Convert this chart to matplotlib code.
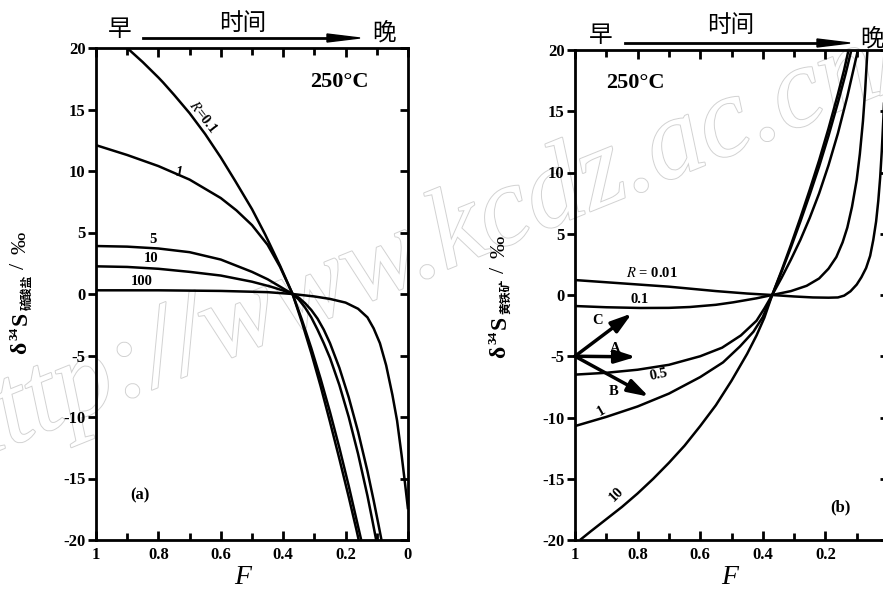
import numpy as np
import matplotlib
matplotlib.use('Agg')
import matplotlib.pyplot as plt
import matplotlib.patheffects as pe
from matplotlib.ticker import MultipleLocator, FixedLocator
from matplotlib.lines import Line2D
from matplotlib.patches import Polygon

plt.rcParams['font.family'] = ['Liberation Serif', 'Noto Sans CJK SC']
plt.rcParams['mathtext.fontset'] = 'stix'
plt.rcParams['axes.unicode_minus'] = False

# (a) sulfate: F (fraction remaining) vs delta34S, one curve per R
a_r01_F = [0.90, 0.85, 0.80, 0.785, 0.75, 0.70, 0.65, 0.60, 0.554, 0.50, 0.458, 0.41, 0.37,
           0.34, 0.31, 0.28, 0.25, 0.22, 0.19, 0.165, 0.158]
a_r01_d = [20.0, 18.85, 17.6, 17.2, 16.2, 14.7, 13.0, 11.1, 9.2, 6.9, 4.85, 2.3, 0.0,
           -2.3, -4.8, -7.5, -10.4, -13.4, -16.5, -19.2, -20.0]
a_r1_F = [1.0, 0.9, 0.8, 0.7, 0.6, 0.55, 0.50, 0.45, 0.41, 0.37,
          0.34, 0.31, 0.28, 0.25, 0.22, 0.19, 0.16, 0.15]
a_r1_d = [12.1, 11.3, 10.4, 9.3, 7.8, 6.8, 5.6, 4.0, 2.2, 0.0,
          -2.1, -4.4, -6.9, -9.6, -12.5, -15.6, -18.9, -20.0]
a_r5_F = [1.0, 0.9, 0.8, 0.7, 0.6, 0.5, 0.45, 0.41, 0.37,
          0.35, 0.33, 0.31, 0.29, 0.27, 0.25, 0.22, 0.19, 0.16, 0.13, 0.115, 0.102]
a_r5_d = [3.9, 3.85, 3.7, 3.4, 2.8, 1.8, 1.2, 0.6, 0.0,
          -0.45, -1.1, -1.9, -2.9, -4.0, -5.2, -7.4, -10.0, -13.0, -16.4, -18.3, -20.0]
a_r10_F = [1.0, 0.9, 0.8, 0.7, 0.6, 0.5, 0.44, 0.40, 0.37,
           0.35, 0.33, 0.31, 0.29, 0.27, 0.25, 0.22, 0.19, 0.16, 0.13, 0.11, 0.095, 0.085]
a_r10_d = [2.25, 2.2, 2.05, 1.8, 1.5, 1.0, 0.6, 0.28, 0.0,
           -0.3, -0.75, -1.3, -2.0, -2.9, -4.0, -6.0, -8.4, -11.2, -14.4, -16.8, -18.7, -20.0]
a_r100_F = [1.0, 0.8, 0.6, 0.45, 0.37, 0.30, 0.25, 0.20, 0.16, 0.13, 0.11, 0.09,
            0.07, 0.05, 0.035, 0.02, 0.01, 0.0]
a_r100_d = [0.3, 0.3, 0.25, 0.15, 0.0, -0.2, -0.4, -0.7, -1.2, -1.9, -2.8, -4.0,
            -5.8, -8.2, -10.3, -13.2, -15.3, -17.5]

# (b) pyrite
b_r001_F = [1.0, 0.85, 0.70, 0.55, 0.45, 0.37, 0.30, 0.24, 0.19, 0.16, 0.14, 0.12,
            0.10, 0.085, 0.07, 0.057, 0.047, 0.038, 0.031, 0.025, 0.02, 0.015, 0.01, 0.006]
b_r001_d = [1.22, 0.95, 0.68, 0.32, 0.12, 0.0, -0.12, -0.2, -0.22, -0.2, -0.05, 0.3,
            0.85, 1.45, 2.2, 3.2, 4.5, 6.0, 7.7, 9.6, 11.7, 14.3, 17.5, 20.3]
b_r01_F = [1.0, 0.9, 0.79, 0.70, 0.633, 0.55, 0.495, 0.42, 0.37,
           0.31, 0.26, 0.22, 0.19, 0.165, 0.145, 0.13, 0.115, 0.10, 0.09, 0.08, 0.073, 0.067, 0.065]
b_r01_d = [-0.9, -1.0, -1.06, -1.05, -0.98, -0.8, -0.6, -0.27, 0.0,
           0.32, 0.75, 1.35, 2.15, 3.1, 4.3, 5.5, 7.2, 9.4, 11.5, 14.2, 16.7, 19.4, 20.3]
b_r05_F = [1.0, 0.9, 0.8, 0.7, 0.6, 0.53, 0.47, 0.42, 0.395, 0.37,
           0.34, 0.31, 0.28, 0.25, 0.22, 0.19, 0.16, 0.13, 0.105, 0.096]
b_r05_d = [-6.5, -6.35, -6.1, -5.7, -5.0, -4.3, -3.3, -2.1, -1.1, 0.0,
           1.4, 2.9, 4.5, 6.3, 8.3, 10.6, 13.2, 16.2, 19.0, 20.0]
b_r1_F = [1.0, 0.9, 0.8, 0.7, 0.6, 0.527, 0.473, 0.43, 0.40, 0.37,
          0.34, 0.31, 0.28, 0.25, 0.22, 0.19, 0.16, 0.135, 0.117]
b_r1_d = [-10.7, -9.95, -9.1, -8.05, -6.7, -5.5, -4.2, -3.0, -1.8, 0.0,
          1.9, 3.9, 6.0, 8.2, 10.5, 13.0, 15.7, 18.1, 20.0]
b_r10_F = [0.984, 0.95, 0.90, 0.85, 0.80, 0.75, 0.70, 0.65, 0.60, 0.55, 0.50, 0.45,
           0.42, 0.395, 0.37, 0.34, 0.31, 0.28, 0.25, 0.22, 0.19, 0.16, 0.14, 0.126]
b_r10_d = [-20.0, -19.3, -18.3, -17.3, -16.2, -15.0, -13.7, -12.3, -10.7, -9.0, -7.0, -4.8,
           -3.3, -1.85, 0.0, 2.0, 4.1, 6.3, 8.6, 11.0, 13.6, 16.4, 18.4, 20.0]

# reaction-path arrows in (b): start point and tips
arrow_start = (1.0, -5.0)
arrow_tips = {'C': (0.818, -1.5), 'A': (0.805, -5.05), 'B': (0.764, -8.3)}

W, H = 883, 591
fig = plt.figure(figsize=(W / 100, H / 100), dpi=100)


def fpos(x, y):
    # pixel position (top-left origin) -> figure fraction
    return x / W, 1 - y / H


def axes_px(x0, y0, x1, y1):
    return fig.add_axes([x0 / W, 1 - y1 / H, (x1 - x0) / W, (y1 - y0) / H])


def style(ax):
    ax.set_xlim(1, 0)
    ax.set_ylim(-20, 20)
    ax.patch.set_alpha(0)
    for s in ax.spines.values():
        s.set_linewidth(2.0)
    ax.xaxis.set_major_locator(FixedLocator([1, 0.8, 0.6, 0.4, 0.2, 0]))
    ax.xaxis.set_minor_locator(FixedLocator([0.9, 0.7, 0.5, 0.3, 0.1]))
    ax.set_xticklabels(['1', '0.8', '0.6', '0.4', '0.2', '0'])
    ax.yaxis.set_major_locator(MultipleLocator(5))
    ax.tick_params(axis='x', which='major', direction='in', top=True, bottom=True,
                   width=2, length=6.5, labelsize=12, pad=5)
    ax.tick_params(axis='x', which='minor', direction='in', top=True, bottom=True,
                   width=2, length=5)
    ax.tick_params(axis='y', which='major', direction='out', left=True, right=False,
                   width=2, length=5.5, labelsize=12, pad=2)
    for lbl in ax.get_xticklabels() + ax.get_yticklabels():
        lbl.set_fontweight('bold')
    tw = ax.twinx()
    tw.set_ylim(-20, 20)
    tw.yaxis.set_major_locator(MultipleLocator(5))
    tw.tick_params(axis='y', direction='in', width=2, length=5.5, labelright=False)
    for s in tw.spines.values():
        s.set_visible(False)


# faint outlined site stamp running across both panels
fig.text(*fpos(425, 248), 'http://www.kcdz.ac.cn/', fontsize=82, style='italic',
         rotation=22, ha='center', va='center', color='white', zorder=-5,
         path_effects=[pe.Stroke(linewidth=1.4, foreground='#d2d2d2'), pe.Normal()])

ax_a = axes_px(96, 48, 408, 540)
ax_b = axes_px(575, 50, 888, 540)
style(ax_a)
style(ax_b)

lw = 1.8
line = dict(color='k', lw=lw, solid_joinstyle='round', solid_capstyle='butt')
for F, d in [(a_r01_F, a_r01_d), (a_r1_F, a_r1_d), (a_r5_F, a_r5_d),
             (a_r10_F, a_r10_d), (a_r100_F, a_r100_d)]:
    ax_a.plot(F, d, **line)
for F, d in [(b_r001_F, b_r001_d), (b_r01_F, b_r01_d), (b_r05_F, b_r05_d),
             (b_r1_F, b_r1_d), (b_r10_F, b_r10_d)]:
    ax_b.plot(F, d, **line)

lab = dict(fontsize=10.5, fontweight='bold', ha='center', va='center')
ax_a.text(0.657, 14.4, r'$R$=0.1', rotation=-52, **lab)
ax_a.text(0.734, 9.9, '1', style='italic', **lab)
ax_a.text(0.817, 4.4, '5', **lab)
ax_a.text(0.824, 2.9, '10', **lab)
ax_a.text(0.853, 0.98, '100', **lab)
ax_a.text(0.859, -16.4, '(a)', fontsize=12, fontweight='bold', ha='center', va='center')
ax_a.text(0.221, 17.2, '250\u00b0C', fontsize=16, fontweight='bold', ha='center', va='center')

ax_b.text(0.754, 1.8, r'$R$ = 0.01', **lab)
ax_b.text(0.792, -0.33, '0.1', **lab)
ax_b.text(0.731, -6.5, '0.5', rotation=12, **lab)
ax_b.text(0.917, -9.5, '1', rotation=30, **lab)
ax_b.text(0.869, -16.3, '10', rotation=45, **lab)
ax_b.text(0.153, -17.3, '(b)', fontsize=12, fontweight='bold', ha='center', va='center')
ax_b.text(0.808, 17.3, '250\u00b0C', fontsize=16, fontweight='bold', ha='center', va='center')

for name, tip in arrow_tips.items():
    ax_b.annotate('', xy=tip, xytext=arrow_start,
                  arrowprops=dict(arrowstyle='-|>,head_length=0.9,head_width=0.28',
                                  lw=2.5, color='k', shrinkA=0, shrinkB=0,
                                  mutation_scale=14))
ax_b.text(0.927, -2.1, 'C', **lab)
ax_b.text(0.873, -4.4, 'A', **lab)
ax_b.text(0.876, -7.9, 'B', **lab)

# "early -> time -> late" headers
cjk = dict(fontsize=17, ha='center', va='center', family='Noto Sans CJK SC')


def header(x_early, x_mid, x_late, y_txt, y_mid, x0, x1, xh, yarr):
    fig.text(*fpos(x_early, y_txt), '早', **cjk)
    fig.text(*fpos(x_mid, y_mid), '时间', **cjk)
    fig.text(*fpos(x_late, y_txt + 3), '晚', **cjk)
    fig.add_artist(Line2D([x0 / W, xh / W], [1 - yarr / H] * 2, color='k', lw=2,
                          transform=fig.transFigure))
    fig.add_artist(Polygon([fpos(xh, yarr - 4), fpos(x1, yarr), fpos(xh, yarr + 4)],
                           closed=True, color='k', transform=fig.transFigure))


header(120, 243, 384, 30, 23, 143, 360, 327, 38)
header(601, 731, 872, 36, 25, 625, 850, 817, 43)

# x labels
for xc in (243, 730):
    fig.text(*fpos(xc, 577), 'F', fontsize=20, style='italic', ha='center', va='center')

# rotated y labels built piece by piece: (text, x, y, size, family, weight)
ser = 'Liberation Serif'
cj = 'Noto Sans CJK SC'


def ylabel(dx, dy, sub):
    parts = [('δ', 21, 348, 17, ser, 'bold'), ('34', 14, 333, 9.5, ser, 'bold'),
             ('S', 21, 318, 17, ser, 'bold'), (sub, 27, 292, 8.5, cj, 'bold'),
             ('/', 20, 266, 16, ser, 'normal'), ('‰', 21, 243, 16, ser, 'normal')]
    for s, x, y, size, fam, wt in parts:
        fig.text(*fpos(x + dx, y + dy), s, rotation=90, rotation_mode='anchor',
                 ha='center', va='center', fontsize=size, family=fam, fontweight=wt)


ylabel(0, 0, '硫酸盐')
ylabel(479, 4, '黄铁矿')

fig.savefig('out.png', dpi=100)
